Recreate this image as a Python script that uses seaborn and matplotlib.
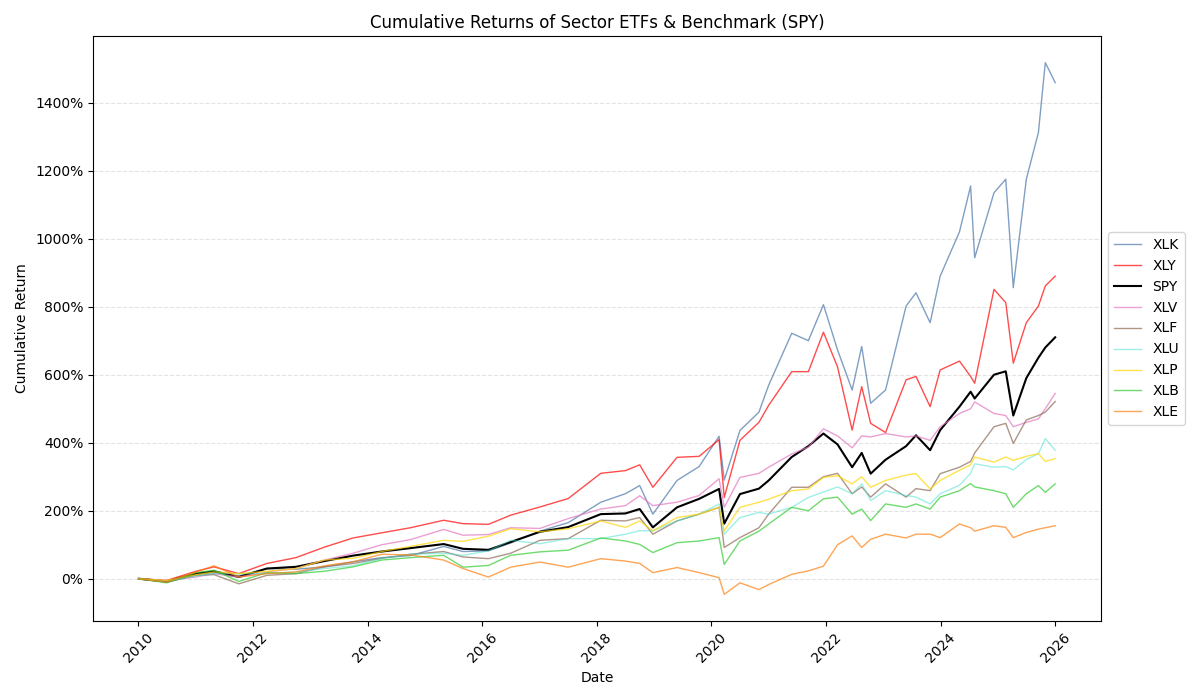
import pandas as pd
import numpy as np
import matplotlib
matplotlib.use("Agg")
import matplotlib.pyplot as plt
import matplotlib.dates as mdates
from matplotlib.ticker import PercentFormatter
import seaborn as sns

# sample dates (cumulative return in %)
dates = pd.to_datetime([
    "2010-01-04", "2010-07-01", "2011-01-03", "2011-04-29", "2011-10-03",
    "2012-03-30", "2012-10-01", "2013-04-01", "2013-10-01", "2014-04-01",
    "2014-10-01", "2015-05-01", "2015-09-01", "2016-02-10", "2016-07-01",
    "2017-01-03", "2017-07-03", "2018-01-26", "2018-07-02", "2018-10-01",
    "2018-12-24", "2019-05-27", "2019-10-15", "2020-02-19", "2020-03-23",
    "2020-07-01", "2020-10-30", "2020-12-31", "2021-05-27", "2021-09-10",
    "2021-12-15", "2022-03-15", "2022-06-16", "2022-08-16", "2022-10-12",
    "2023-01-15", "2023-05-26", "2023-07-28", "2023-10-26", "2023-12-29",
    "2024-04-30", "2024-07-10", "2024-08-05", "2024-12-06", "2025-02-19",
    "2025-04-08", "2025-06-30", "2025-09-15", "2025-10-29", "2025-12-31",
])

xlk = [0, -10, 12, 18, 8, 30, 28, 35, 50, 62,
       68, 95, 80, 82, 105, 140, 165, 225, 250, 274,
       190, 289, 330, 419, 290, 436, 490, 569, 722, 700,
       806, 673, 555, 683, 516, 555, 802, 841, 753, 890,
       1020, 1155, 944, 1135, 1175, 856, 1175, 1312, 1518, 1459]
xly = [0, -5, 22, 35, 15, 45, 62, 93, 120, 135,
       150, 172, 162, 160, 187, 211, 236, 310, 318, 335,
       269, 357, 360, 409, 239, 407, 460, 510, 609, 609,
       725, 623, 437, 565, 457, 430, 585, 595, 506, 614,
       640, 595, 575, 851, 812, 634, 753, 802, 861, 890]
spy = [0, -8, 15, 22, 5, 30, 35, 52, 68, 80,
       90, 102, 88, 85, 108, 138, 152, 190, 192, 205,
       151, 210, 235, 264, 162, 249, 265, 289, 358, 390,
       427, 395, 328, 370, 309, 350, 390, 422, 378, 437,
       506, 550, 530, 600, 610, 480, 590, 650, 680, 710]
xlv = [0, -5, 5, 15, 5, 20, 30, 55, 75, 100,
       115, 145, 128, 130, 150, 148, 177, 205, 215, 244,
       215, 225, 245, 294, 210, 298, 310, 328, 367, 387,
       441, 420, 385, 420, 417, 427, 417, 420, 407, 447,
       486, 500, 520, 486, 480, 447, 460, 470, 500, 545]
xlf = [0, -10, 10, 12, -15, 10, 15, 35, 45, 60,
       72, 80, 64, 59, 75, 113, 118, 172, 170, 180,
       131, 170, 190, 210, 92, 121, 150, 190, 269, 269,
       300, 310, 250, 270, 240, 279, 240, 265, 259, 309,
       328, 345, 370, 447, 457, 398, 467, 480, 490, 521]
xlu = [0, -8, 8, 15, 15, 15, 20, 30, 38, 60,
       72, 75, 69, 82, 113, 103, 118, 118, 131, 141,
       141, 170, 190, 220, 131, 180, 195, 190, 210, 239,
       255, 270, 250, 279, 230, 259, 245, 240, 220, 250,
       275, 310, 338, 328, 330, 320, 350, 368, 412, 378]
xlp = [0, -5, 12, 20, 15, 22, 30, 55, 60, 80,
       95, 113, 110, 125, 147, 138, 147, 170, 151, 170,
       141, 180, 190, 210, 141, 210, 225, 234, 259, 264,
       298, 303, 279, 300, 269, 289, 305, 309, 264, 289,
       319, 335, 358, 343, 358, 348, 360, 368, 345, 353]
xlb = [0, -12, 18, 25, -8, 18, 15, 22, 35, 55,
       62, 69, 34, 39, 69, 79, 84, 120, 111, 101,
       77, 106, 111, 121, 42, 111, 140, 161, 210, 200,
       235, 240, 190, 205, 171, 220, 210, 220, 205, 240,
       259, 280, 270, 259, 250, 210, 250, 274, 254, 279]
xle = [0, -10, 20, 38, 5, 15, 20, 38, 50, 72,
       70, 55, 30, 5, 34, 49, 34, 59, 52, 45,
       18, 33, 18, 3, -46, -12, -32, -17, 13, 23,
       37, 100, 126, 92, 116, 131, 120, 131, 131, 121,
       161, 150, 140, 156, 151, 121, 136, 146, 150, 156]

tickers = ["XLK", "XLY", "SPY", "XLV", "XLF", "XLU", "XLP", "XLB", "XLE"]
series = [xlk, xly, spy, xlv, xlf, xlu, xlp, xlb, xle]
colors = {"XLK": "#4a76a8", "XLY": "red", "SPY": "black", "XLV": "#e377c2",
          "XLF": "#8c6a55", "XLU": "#40e0d0", "XLP": "gold", "XLB": "limegreen",
          "XLE": "#ff7f0e"}

fig, ax = plt.subplots(figsize=(12, 7), dpi=100)

for name, vals in zip(tickers, series):
    if name == "SPY":
        sns.lineplot(x=dates, y=vals, ax=ax, color="black", linewidth=1.5, label=name)
    else:
        a = 0.5 if name == "XLU" else 0.7
        sns.lineplot(x=dates, y=vals, ax=ax, color=colors[name], linewidth=1, alpha=a, label=name)

ax.set_title("Cumulative Returns of Sector ETFs & Benchmark (SPY)", fontsize=12)
ax.set_xlabel("Date")
ax.set_ylabel("Cumulative Return")
ax.yaxis.set_major_formatter(PercentFormatter(100, decimals=0))
ax.xaxis.set_major_locator(mdates.YearLocator(2))
ax.xaxis.set_major_formatter(mdates.DateFormatter("%Y"))
plt.setp(ax.get_xticklabels(), rotation=45)
ax.grid(axis="y", linestyle="--", alpha=0.35)
ax.legend(loc="center left", bbox_to_anchor=(1.0, 0.5))

fig.subplots_adjust(left=0.0775, right=0.9175, top=0.9486, bottom=0.1129)
fig.savefig("out.png")
